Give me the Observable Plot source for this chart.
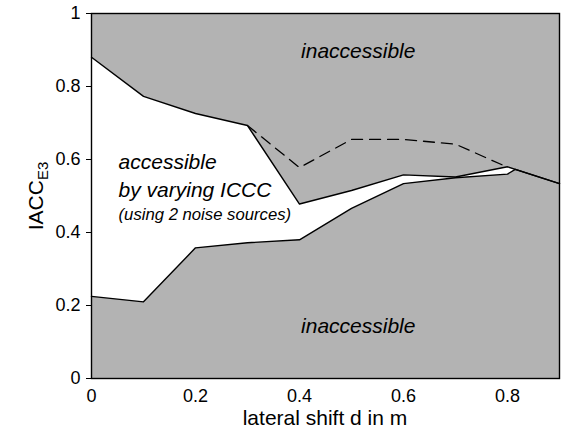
<!DOCTYPE html>
<html><head><meta charset="utf-8">
<script src="https://cdn.jsdelivr.net/npm/d3@7"></script>
<script src="https://cdn.jsdelivr.net/npm/@observablehq/plot@0.6"></script>
<style>body{margin:0;background:#fff}</style>
</head><body><div id="chart"></div>
<script>
// Upper boundary of the accessible region
const upperX = [0, 0.1, 0.2, 0.3, 0.4, 0.5, 0.6, 0.7, 0.8, 0.9];
const upperY = [0.88, 0.773, 0.726, 0.693, 0.478, 0.515, 0.558, 0.552, 0.58, 0.534];
// Lower boundary of the accessible region
const lowerX = [0, 0.1, 0.2, 0.3, 0.4, 0.5, 0.6, 0.7, 0.8, 0.815, 0.9];
const lowerY = [0.225, 0.21, 0.358, 0.372, 0.38, 0.466, 0.534, 0.55, 0.56, 0.573, 0.534];
// Dashed curve
const dashedX = [0.3, 0.4, 0.5, 0.6, 0.7, 0.795];
const dashedY = [0.693, 0.578, 0.655, 0.655, 0.642, 0.582];

const xTicks = [0, 0.2, 0.4, 0.6, 0.8];
const xTickLabels = ["0", "0.2", "0.4", "0.6", "0.8"];
const yTicks = [0, 0.2, 0.4, 0.6, 0.8, 1];
const yTickLabels = ["0", "0.2", "0.4", "0.6", "0.8", "1"];

const xLabel = "lateral shift d in m";
const yLabelMain = "IACC";
const yLabelSub = "E3";

const pts = (xs, ys) => xs.map((x, i) => ({x, y: ys[i]}));
const upper = pts(upperX, upperY);
const lower = pts(lowerX, lowerY);
const dashed = pts(dashedX, dashedY);
const region = [...upper, ...lower.slice().reverse()];

const font = "'Liberation Sans', Arial, Helvetica, sans-serif";

const chart = Plot.plot({
  width: 565, height: 434,
  marginLeft: 91, marginRight: 6, marginTop: 13, marginBottom: 56,
  style: {fontFamily: font, fontSize: "18px", background: "white", color: "black", overflow: "visible"},
  x: {domain: [0, 0.9]},
  y: {domain: [0, 1]},
  marks: [
    Plot.frame({fill: "#b3b3b3", stroke: "none"}),
    Plot.line(region, {x: "x", y: "y", fill: "white", stroke: "none", curve: "linear"}),
    Plot.line(upper, {x: "x", y: "y", stroke: "black", strokeWidth: 1.4}),
    Plot.line(lower, {x: "x", y: "y", stroke: "black", strokeWidth: 1.4}),
    Plot.line(dashed, {x: "x", y: "y", stroke: "black", strokeWidth: 1.3, strokeDasharray: "11,7"}),
    Plot.text(["inaccessible"], {x: 0.513, y: 0.879, text: d => d, fontSize: 21, fontStyle: "italic", textAnchor: "middle", lineAnchor: "bottom"}),
    Plot.text(["inaccessible"], {x: 0.513, y: 0.126, text: d => d, fontSize: 21, fontStyle: "italic", textAnchor: "middle", lineAnchor: "bottom"}),
    Plot.text(["accessible"], {x: 0.052, y: 0.575, text: d => d, fontSize: 21, fontStyle: "italic", textAnchor: "start", lineAnchor: "bottom"}),
    Plot.text(["by varying ICCC"], {x: 0.052, y: 0.496, text: d => d, fontSize: 21, fontStyle: "italic", textAnchor: "start", lineAnchor: "bottom"}),
    Plot.text(["(using 2 noise sources)"], {x: 0.052, y: 0.433, text: d => d, fontSize: 16.7, fontStyle: "italic", textAnchor: "start", lineAnchor: "bottom"}),
    Plot.axisX({ticks: xTicks, tickSize: 0, tickPadding: 11, tickFormat: d => xTickLabels[xTicks.indexOf(d)], label: null}),
    Plot.axisY({ticks: yTicks, tickSize: 5, tickPadding: 6, tickFormat: d => yTickLabels[yTicks.indexOf(d)], label: null}),
    Plot.frame({stroke: "black", strokeWidth: 1.4})
  ]
});

const svg = d3.select(chart);
svg.append("text")
  .attr("x", 325).attr("y", 425)
  .attr("text-anchor", "middle")
  .attr("font-family", font).attr("font-size", 21)
  .attr("fill", "black")
  .text(xLabel);
const yl = svg.append("text")
  .attr("transform", "translate(43,196) rotate(-90)")
  .attr("text-anchor", "middle")
  .attr("font-family", font).attr("font-size", 21)
  .attr("fill", "black");
yl.append("tspan").text(yLabelMain);
yl.append("tspan").attr("font-size", 15).attr("dy", 5).text(yLabelSub);

document.getElementById("chart").appendChild(chart);
</script>
</body></html>
